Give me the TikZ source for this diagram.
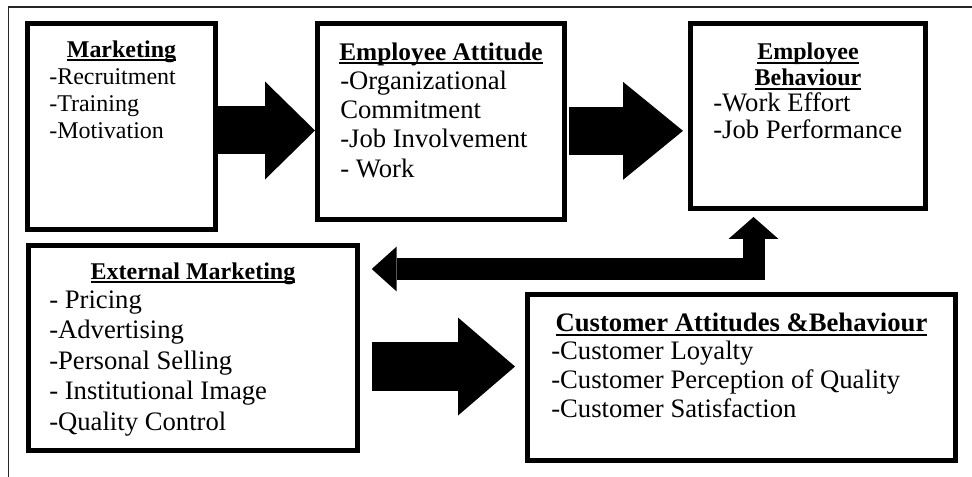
\documentclass[tikz,border=0pt]{standalone}
\usepackage{fontspec}
\setmainfont{Liberation Serif}
\usetikzlibrary{arrows.meta}
\newcommand\uhead[1]{{\bfseries\setbox0\hbox{#1}\rlap{\rule[-0.15em]{\wd0}{0.08em}}\box0}}
\newcommand\fs[2]{\fontsize{#1}{#2}\selectfont}
\begin{document}
\begin{tikzpicture}[x=0.75pt,y=-0.75pt,
  box/.style={draw,line width=3.75pt,inner sep=0pt},
  head/.style={inner sep=0pt,anchor=base,align=center},
  items/.style={inner sep=0pt,anchor=base west,align=left},
  bigarrow/.style={line width=36pt,-{Triangle[length=#1,width=73.5pt,line width=0pt]}},
  bigarrow/.default=37.5pt,
  bentarrow/.style={line width=16.5pt,line join=miter,
    {Triangle[length=18.75pt,width=33.75pt,line width=0pt]}-{Triangle[length=16.5pt,width=37.5pt,line width=0pt]}}]
  \useasboundingbox (0,0) rectangle (972,477);
  \draw[line width=1.2pt,black!85] (8.5,477) |- (972,7);

  \node[box,minimum width=141pt,minimum height=154.5pt] (mkt) at (121.5,126.5) {};
  \node[box,minimum width=185.25pt,minimum height=147pt] (att) at (441,121.5) {};
  \node[box,minimum width=176.25pt,minimum height=138.75pt] (beh) at (808,116) {};
  \node[box,minimum width=246.75pt,minimum height=153.75pt] (ext) at (193,348) {};
  \node[box,minimum width=321pt,minimum height=124.5pt] (cust) at (741.5,377.5) {};

  % multi-line nodes sit on the baseline of their last line
  \node[head,font=\fs{18}{20}] (mkt-h) at (121.5,57.5) {\uhead{Marketing}};
  \node[items,font=\fs{18}{20.25}] (mkt-l) at (49,139) {-Recruitment\\-Training\\-Motivation};
  \node[head,font=\fs{19}{20}] (att-h) at (441,60.7) {\uhead{Employee Attitude}};
  \node[items,font=\fs{20}{22}] (att-l) at (340,177.3) {-Organizational\\Commitment\\-Job Involvement\\- Work};
  \node[head,font=\fs{18}{19.5}] (beh-h) at (808,86) {\uhead{Employee}\\\uhead{Behaviour}};
  \node[items,font=\fs{20}{20}] (beh-l) at (713,138.4) {-Work Effort\\-Job Performance};
  \node[head,font=\fs{18}{20}] (ext-h) at (193,279.3) {\uhead{External Marketing}};
  \node[items,font=\fs{20}{22.9}] (ext-l) at (49,430.3) {- Pricing\\-Advertising\\-Personal Selling\\- Institutional Image\\-Quality Control};
  \node[head,font=\fs{20}{22}] (cust-h) at (741.5,332) {\uhead{Customer Attitudes \&Behaviour}};
  \node[items,font=\fs{20}{22.1}] (cust-l) at (551,418) {-Customer Loyalty\\-Customer Perception of Quality\\-Customer Satisfaction};

  \coordinate (s1) at ([yshift=-3pt]mkt.east);
  \draw[bigarrow] (s1) -- (s1 -| att.west);
  \coordinate (s2) at ([yshift=-7pt]att.east);
  \draw[bigarrow=45pt,shorten <=1.5pt,shorten >=3.75pt] (s2) -- (s2 -| beh.west);
  \coordinate (s3) at ([yshift=-13.9pt]ext.east);
  \draw[bigarrow=42.75pt,line width=36.75pt,shorten <=9pt,shorten >=7.5pt] (s3) -- (s3 -| cust.west);
  \coordinate (fb) at ([shift={(-54.5,6)}]beh.south);
  \draw[bentarrow,shorten <=8.8pt] (ext.east |- 0,269) -| (fb);
\end{tikzpicture}
\end{document}
